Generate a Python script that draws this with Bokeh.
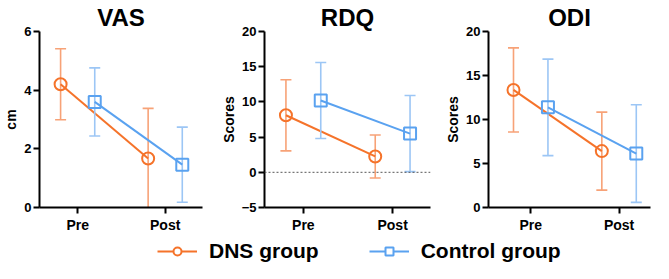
from bokeh.plotting import figure
from bokeh.layouts import column, row
from bokeh.models import FixedTicker, Legend, LegendItem, ColumnDataSource, Range1d, Span
from bokeh.embed import file_html
from bokeh.resources import INLINE

# ---------------- data ----------------
categories = ["Pre", "Post"]
x_pos = [0, 1]

vas_dns_mean = [4.20, 1.67]
vas_dns_sd = [1.21, 1.71]
vas_ctl_mean = [3.60, 1.46]
vas_ctl_sd = [1.16, 1.28]

rdq_dns_mean = [8.10, 2.25]
rdq_dns_sd = [5.05, 3.05]
rdq_ctl_mean = [10.20, 5.50]
rdq_ctl_sd = [5.40, 5.40]

odi_dns_mean = [13.36, 6.41]
odi_dns_sd = [4.78, 4.43]
odi_ctl_mean = [11.38, 6.13]
odi_ctl_sd = [5.48, 5.55]

titles = ["VAS", "RDQ", "ODI"]
y_labels = ["cm", "Scores", "Scores"]
y_ranges = [(0, 6), (-5, 20), (0, 20)]
y_ticks = [[0, 2, 4, 6], [-5, 0, 5, 10, 15, 20], [0, 5, 10, 15, 20]]
group_names = ["DNS group", "Control group"]

ORANGE = "#F5732A"
ORANGE_LIGHT = "#F7A277"
BLUE = "#5AA2F0"
BLUE_LIGHT = "#9CC6F5"
FONT = "Liberation Sans"
OFFSET = 0.195
PANEL_H = 235


def panel(title, ylab, yr, yt, dns_m, dns_s, ctl_m, ctl_s, width, mb_left, mb_right, mb_top, xr, zero_line=False):
    p = figure(width=width, height=PANEL_H, output_backend="svg", toolbar_location=None,
               x_range=Range1d(*xr), y_range=Range1d(*yr),
               min_border_left=mb_left, min_border_right=mb_right,
               min_border_top=mb_top, min_border_bottom=20)
    p.title.text = title
    p.title.align = "center"
    p.title.text_font = FONT
    p.title.text_font_size = "24px"
    p.title.text_font_style = "bold"
    p.title.text_color = "black"
    p.title.standoff = 2
    p.outline_line_color = None
    p.grid.visible = False
    p.background_fill_color = "white"
    p.border_fill_color = "white"

    for ax in (p.xaxis[0], p.yaxis[0]):
        ax.axis_line_width = 2
        ax.axis_line_color = "black"
        ax.major_tick_line_width = 2
        ax.major_tick_line_color = "black"
        ax.major_tick_out = 6
        ax.major_tick_in = 0
        ax.minor_tick_line_color = None
        ax.major_label_text_font = FONT
        ax.major_label_text_font_style = "bold"
        ax.major_label_text_color = "black"
    p.xaxis.ticker = FixedTicker(ticks=x_pos)
    p.xaxis.major_label_overrides = {x: c for x, c in zip(x_pos, categories)}
    p.xaxis.major_label_text_font_size = "14px"
    p.xaxis.major_label_standoff = 3
    p.yaxis.ticker = FixedTicker(ticks=yt)
    p.yaxis.major_label_text_font_size = "13px"
    p.yaxis.major_label_standoff = 2
    p.yaxis.axis_label = ylab
    p.yaxis.axis_label_text_font = FONT
    p.yaxis.axis_label_text_font_size = "14px"
    p.yaxis.axis_label_text_font_style = "bold"
    p.yaxis.axis_label_text_color = "black"
    p.yaxis.axis_label_standoff = 2

    if zero_line:
        p.add_layout(Span(location=0, dimension="width", line_color="#555555",
                          line_dash="2 2", line_width=1))

    for means, sds, off, col, col_l, marker in (
        (dns_m, dns_s, -OFFSET, ORANGE, ORANGE_LIGHT, "circle"),
        (ctl_m, ctl_s, OFFSET, BLUE, BLUE_LIGHT, "square"),
    ):
        xs = [x + off for x in x_pos]
        lo = [m - s for m, s in zip(means, sds)]
        hi = [m + s for m, s in zip(means, sds)]
        src = ColumnDataSource(dict(x=xs, m=means, lo=lo, hi=hi))
        p.segment(x0="x", y0="lo", x1="x", y1="hi", source=src, line_color=col_l, line_width=1.6)
        p.scatter(x="x", y="lo", source=src, marker="dash", size=11, line_color=col_l, line_width=1.6)
        p.scatter(x="x", y="hi", source=src, marker="dash", size=11, line_color=col_l, line_width=1.6)
        p.line(x="x", y="m", source=src, line_color=col, line_width=2)
        p.scatter(x="x", y="m", source=src, marker=marker, size=12, line_color=col,
                  line_width=2, fill_color=None)
    return p


p1 = panel(titles[0], y_labels[0], y_ranges[0], y_ticks[0], vas_dns_mean, vas_dns_sd,
           vas_ctl_mean, vas_ctl_sd, 217, 27, 15, 24, (-0.436, 1.426))
p2 = panel(titles[1], y_labels[1], y_ranges[1], y_ticks[1], rdq_dns_mean, rdq_dns_sd,
           rdq_ctl_mean, rdq_ctl_sd, 225, 42, 12, 30, (-0.435, 1.424), zero_line=True)
p3 = panel(titles[2], y_labels[2], y_ranges[2], y_ticks[2], odi_dns_mean, odi_dns_sd,
           odi_ctl_mean, odi_ctl_sd, 211, 43, 3, 30, (-0.478, 1.356))

# ---------------- legend ----------------
pl = figure(width=653, height=263 - PANEL_H, output_backend="svg", toolbar_location=None,
            x_range=Range1d(0, 1), y_range=Range1d(0, 1),
            min_border_left=0, min_border_right=0, min_border_top=0, min_border_bottom=0)
pl.axis.visible = False
pl.grid.visible = False
pl.outline_line_color = None
items = []
nan = float("nan")
for name, col, marker in ((group_names[0], ORANGE, "circle"), (group_names[1], BLUE, "square")):
    lr = pl.line(x=[nan], y=[nan], line_color=col, line_width=2)
    sr = pl.scatter(x=[nan], y=[nan], marker=marker, size=10, line_color=col, line_width=2,
                    fill_color="white")
    items.append(LegendItem(label=name, renderers=[lr, sr]))
leg = Legend(items=items, orientation="horizontal", location=(157, 0),
             glyph_width=40, glyph_height=20, label_standoff=12, spacing=50,
             label_text_font=FONT, label_text_font_size="21px", label_text_font_style="bold",
             label_text_color="black", border_line_color=None, background_fill_alpha=0,
             padding=1, margin=0)
pl.add_layout(leg, "center")

layout = column(row(p1, p2, p3), pl)
open("out.html", "w").write(file_html(layout, INLINE))
